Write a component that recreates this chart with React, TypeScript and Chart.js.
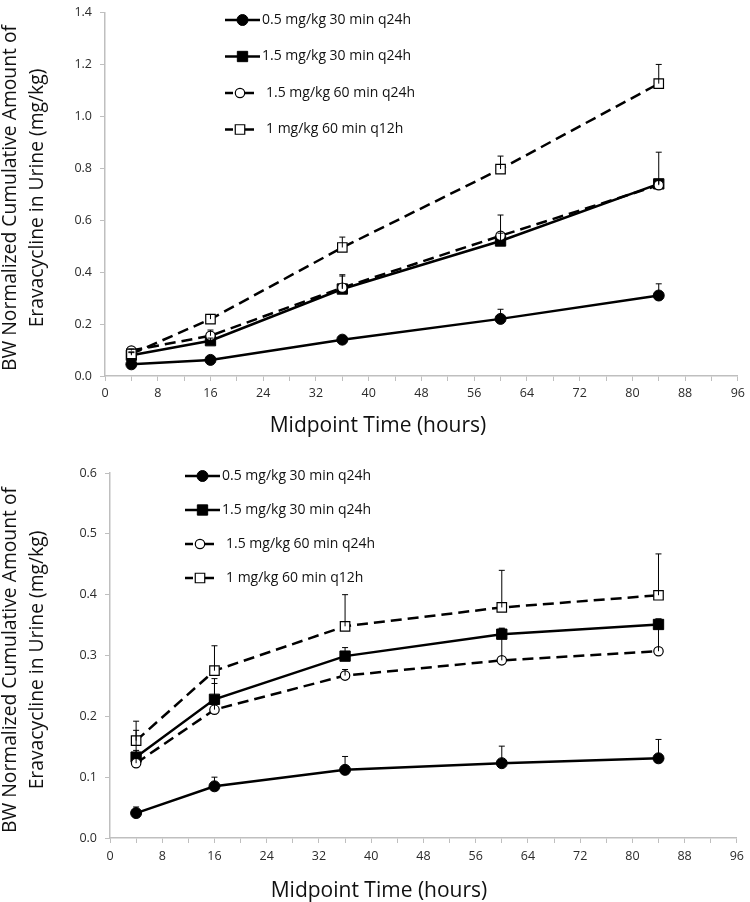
import React, { useEffect, useRef } from "react";
import { Chart, registerables } from "chart.js";

Chart.register(...registerables);

// ---------- DATA ----------
const hours = [4, 16, 36, 60, 84];

const seriesLabels = [
  "0.5 mg/kg 30 min q24h",
  "1.5 mg/kg 30 min q24h",
  "1.5 mg/kg 60 min q24h",
  "1 mg/kg 60 min q12h",
];

const xTitle = "Midpoint Time (hours)";
const yTitleLines = ["BW Normalized Cumulative Amount of", "Eravacycline in Urine (mg/kg)"];

// Top panel (cumulative amount)
const topS1 = [0.045, 0.062, 0.14, 0.22, 0.31];
const topS1Err = [0.004, 0.005, 0.008, 0.037, 0.045];
const topS2 = [0.08, 0.136, 0.335, 0.52, 0.74];
const topS2Err = [0.01, 0.01, 0.055, 0.03, 0.122];
const topS3 = [0.098, 0.155, 0.34, 0.54, 0.735];
const topS3Err = [0.006, 0.022, 0.045, 0.08, 0.02];
const topS4 = [0.085, 0.219, 0.495, 0.797, 1.126];
const topS4Err = [0.008, 0.018, 0.04, 0.05, 0.074];
const topYTicks = { min: 0, max: 1.4, step: 0.2 };

// Bottom panel
const botS1 = [0.041, 0.085, 0.112, 0.123, 0.131];
const botS1Err = [0.01, 0.015, 0.022, 0.028, 0.031];
const botS2 = [0.133, 0.228, 0.299, 0.335, 0.351];
const botS2Err = [0.044, 0.034, 0.014, 0.01, 0.009];
const botS3 = [0.123, 0.211, 0.267, 0.292, 0.307];
const botS3Err = [0.021, 0.043, 0.01, 0.052, 0.053];
const botS4 = [0.16, 0.275, 0.348, 0.379, 0.399];
const botS4Err = [0.032, 0.041, 0.052, 0.061, 0.068];
const botYTicks = { min: 0, max: 0.6, step: 0.1 };

const xTicks = { min: 0, max: 96, step: 4, labelEvery: 8 };

// ---------- STYLES ----------
const FONT = "'Open Sans', 'Liberation Sans', sans-serif";
const AXIS_COLOR = "#bfbfbf";
const TEXT_COLOR = "#2b2b2b";

const seriesStyles = [
  { dash: [], pointStyle: "circle", radius: 5.5, fill: "#000", border: "#000", bw: 1 },
  { dash: [], pointStyle: "rect", radius: 7.3, fill: "#000", border: "#000", bw: 1 },
  { dash: [11, 6], pointStyle: "circle", radius: 4.7, fill: "#fff", border: "#000", bw: 1.2 },
  { dash: [11, 6], pointStyle: "rect", radius: 6.7, fill: "#fff", border: "#000", bw: 1.2 },
];

function drawMarker(ctx, style, x, y) {
  ctx.save();
  ctx.setLineDash([]);
  ctx.fillStyle = style.fill;
  ctx.strokeStyle = style.border;
  ctx.lineWidth = style.bw;
  ctx.beginPath();
  if (style.pointStyle === "circle") {
    ctx.arc(x, y, style.radius, 0, Math.PI * 2);
  } else {
    const h = style.radius * Math.SQRT1_2;
    ctx.rect(x - h, y - h, 2 * h, 2 * h);
  }
  ctx.fill();
  ctx.stroke();
  ctx.restore();
}

const errorBarPlugin = {
  id: "errorBars",
  afterDatasetsDraw(chart) {
    const { ctx } = chart;
    const yScale = chart.scales.y;
    chart.data.datasets.forEach((ds: any, i: number) => {
      const meta = chart.getDatasetMeta(i);
      const err = ds.errUp || [];
      ctx.save();
      ctx.strokeStyle = "#000";
      ctx.lineWidth = 1;
      ctx.setLineDash([]);
      meta.data.forEach((pt: any, j: number) => {
        const v = ds.data[j].y + (err[j] || 0);
        const yt = yScale.getPixelForValue(v);
        ctx.beginPath();
        ctx.moveTo(pt.x, pt.y);
        ctx.lineTo(pt.x, yt);
        ctx.moveTo(pt.x - 3, yt);
        ctx.lineTo(pt.x + 3, yt);
        ctx.stroke();
      });
      ctx.restore();
    });
  },
};

const legendPlugin = {
  id: "customLegend",
  afterDraw(chart, _args, opts) {
    const { ctx } = chart;
    chart.data.datasets.forEach((ds: any, i: number) => {
      const st = seriesStyles[i];
      const y = opts.y + i * opts.dy;
      const dashed = st.dash.length > 0;
      const x0 = opts.x;
      ctx.save();
      ctx.strokeStyle = "#000";
      ctx.lineWidth = 2.5;
      ctx.beginPath();
      if (dashed) {
        ctx.moveTo(x0, y);
        ctx.lineTo(x0 + 8, y);
        ctx.moveTo(x0 + 20, y);
        ctx.lineTo(x0 + 29, y);
      } else {
        ctx.moveTo(x0, y);
        ctx.lineTo(x0 + opts.len, y);
      }
      ctx.stroke();
      ctx.restore();
      drawMarker(ctx, st, x0 + (dashed ? 15 : opts.len / 2), y);
      ctx.save();
      ctx.fillStyle = "#111";
      ctx.font = `${opts.fontSize}px ${FONT}`;
      ctx.textBaseline = "middle";
      ctx.textAlign = "left";
      const tx = x0 + opts.len + (dashed ? opts.gap + 4 : opts.gap);
      ctx.fillText(ds.label, tx, y);
      ctx.restore();
    });
  },
};

const titlesPlugin = {
  id: "axisTitles",
  afterDraw(chart, _args, opts) {
    const { ctx } = chart;
    ctx.save();
    ctx.fillStyle = "#111";
    ctx.textAlign = "center";
    ctx.textBaseline = "alphabetic";
    ctx.font = `${opts.xSize}px ${FONT}`;
    ctx.fillText(xTitle, opts.xCenter, opts.xBaseline);
    ctx.font = `${opts.ySize}px ${FONT}`;
    opts.yBaselines.forEach((bx: number, i: number) => {
      ctx.save();
      ctx.translate(bx, opts.yCenter);
      ctx.rotate(-Math.PI / 2);
      ctx.fillText(yTitleLines[i], 0, 0);
      ctx.restore();
    });
    ctx.restore();
  },
};

function buildConfig(p) {
  const datasets = p.series.map((vals: number[], i: number) => {
    const st = seriesStyles[i];
    return {
      label: seriesLabels[i],
      data: hours.map((h, j) => ({ x: h, y: vals[j] })),
      errUp: p.errs[i],
      borderColor: "#000",
      backgroundColor: "#000",
      borderWidth: 2.5,
      borderDash: st.dash,
      pointStyle: st.pointStyle,
      pointRadius: st.radius,
      pointBackgroundColor: st.fill,
      pointBorderColor: st.border,
      pointBorderWidth: st.bw,
      tension: 0,
      order: 3 - i,
    };
  });
  const off = p.canvasTop;
  return {
    type: "line",
    data: { datasets },
    plugins: [errorBarPlugin, legendPlugin, titlesPlugin],
    options: {
      animation: false,
      responsive: false,
      maintainAspectRatio: false,
      events: [],
      layout: { padding: { top: p.areaTop - off, right: p.padRight, left: 0, bottom: 0 } },
      plugins: {
        legend: { display: false },
        tooltip: { enabled: false },
        customLegend: { ...p.legend, y: p.legend.y - off },
        axisTitles: {
          xSize: 21,
          ySize: 19.3,
          xCenter: p.xTitleCenter,
          xBaseline: p.xTitleBaseline - off,
          yCenter: p.yTitleCenter - off,
          yBaselines: [16, 43],
        },
      },
      scales: {
        x: {
          type: "linear",
          min: xTicks.min,
          max: xTicks.max,
          afterFit: (s: any) => {
            s.height = p.canvasHeight + off - p.areaBottom;
          },
          ticks: {
            stepSize: xTicks.step,
            autoSkip: false,
            maxRotation: 0,
            padding: p.xTickPad,
            color: TEXT_COLOR,
            font: { family: FONT, size: 12.5 },
            callback: (v: number) => (v % xTicks.labelEvery === 0 ? String(v) : ""),
          },
          grid: {
            display: true,
            drawOnChartArea: false,
            drawTicks: true,
            tickLength: 5,
            color: AXIS_COLOR,
          },
          border: { display: true, color: AXIS_COLOR, width: 1.5 },
          title: { display: false },
        },
        y: {
          type: "linear",
          min: p.yTicks.min,
          max: p.yTicks.max,
          afterFit: (s: any) => {
            s.width = p.yWidth;
          },
          ticks: {
            stepSize: p.yTicks.step,
            padding: 8,
            color: TEXT_COLOR,
            font: { family: FONT, size: 12.5 },
            callback: (v: number) => v.toFixed(1),
          },
          grid: {
            display: true,
            drawOnChartArea: false,
            drawTicks: true,
            tickLength: 5,
            color: AXIS_COLOR,
          },
          border: { display: true, color: AXIS_COLOR, width: 1.5 },
          title: { display: false },
        },
      },
    },
  };
}

function Panel({ cfg }) {
  const ref = useRef<HTMLCanvasElement | null>(null);
  useEffect(() => {
    const chart = new Chart(ref.current as HTMLCanvasElement, buildConfig(cfg) as any);
    return () => chart.destroy();
  }, []);
  return (
    <canvas
      ref={ref}
      width={750}
      height={cfg.canvasHeight}
      style={{ position: "absolute", left: 0, top: cfg.canvasTop, width: 750, height: cfg.canvasHeight }}
    />
  );
}

// geometry in page coordinates
const topCfg = {
  series: [topS1, topS2, topS3, topS4],
  errs: [topS1Err, topS2Err, topS3Err, topS4Err],
  yTicks: topYTicks,
  canvasTop: -3,
  canvasHeight: 456,
  areaTop: 5,
  areaBottom: 376,
  padRight: 7,
  yWidth: 105,
  xTickPad: 5,
  xTitleCenter: 378,
  xTitleBaseline: 432,
  yTitleCenter: 198,
  legend: { x: 225, y: 20, dy: 36.5, len: 35, gap: 2, fontSize: 14 },
};

const botCfg = {
  series: [botS1, botS2, botS3, botS4],
  errs: [botS1Err, botS2Err, botS3Err, botS4Err],
  yTicks: botYTicks,
  canvasTop: 450,
  canvasHeight: 452,
  areaTop: 473,
  areaBottom: 838,
  padRight: 8,
  yWidth: 110,
  xTickPad: 6,
  xTitleCenter: 379,
  xTitleBaseline: 897,
  yTitleCenter: 660,
  legend: { x: 185, y: 476, dy: 34, len: 35, gap: 2, fontSize: 14 },
};

export default function App() {
  return (
    <div style={{ position: "absolute", left: 0, top: 0, width: 750, height: 902, background: "#fff" }}>
      <Panel cfg={topCfg} />
      <Panel cfg={botCfg} />
    </div>
  );
}
